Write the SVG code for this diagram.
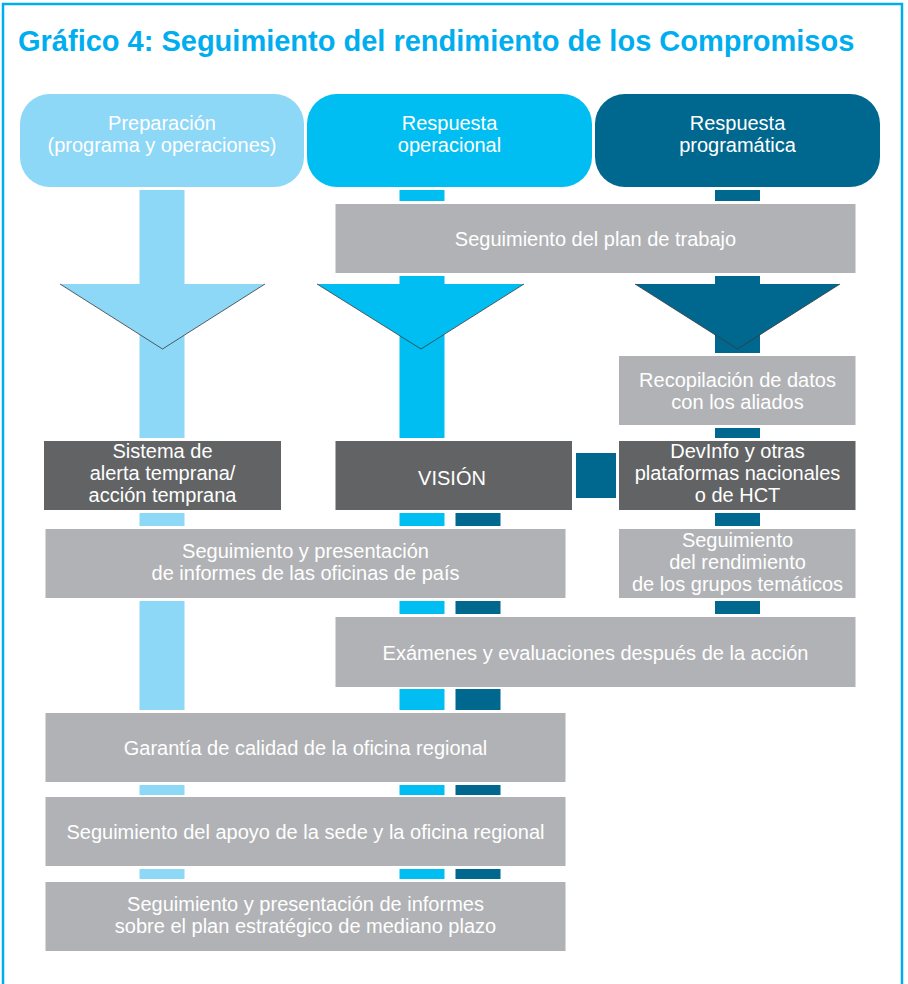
<svg xmlns="http://www.w3.org/2000/svg" width="908" height="984" viewBox="0 0 908 984">
<style>
.t{font-family:"Liberation Sans",Arial,sans-serif;font-size:20px;fill:#ffffff;text-anchor:middle}
.title{font-family:"Liberation Sans",Arial,sans-serif;font-size:29px;font-weight:bold;fill:#00AEEF}
.gray{fill:#B1B2B5}
.dgray{fill:#626365}
.lb{fill:#8DD7F7}
.cy{fill:#00BEF2}
.db{fill:#00678F}
.edge{fill:none;stroke:#3a3a3a;stroke-width:0.8}
</style>
<rect x="0" y="0" width="908" height="984" fill="#ffffff"/>
<rect x="3" y="4" width="899" height="1010" fill="none" stroke="#00AEEF" stroke-width="2.5"/>
<text class="title" x="18" y="50.5">Gráfico 4: Seguimiento del rendimiento de los Compromisos</text>

<g id="connectors">
  <!-- column 1 light blue -->
  <rect class="lb" x="139.5" y="190" width="45" height="248"/>
  <rect class="lb" x="139.5" y="513" width="45" height="13"/>
  <rect class="lb" x="139.5" y="601" width="45" height="109"/>
  <rect class="lb" x="139.5" y="785" width="45" height="10"/>
  <rect class="lb" x="139.5" y="869" width="45" height="10"/>
  <!-- column 2 cyan -->
  <rect class="cy" x="399.5" y="190" width="45" height="11"/>
  <rect class="cy" x="399.5" y="276" width="45" height="162"/>
  <rect class="cy" x="399.5" y="513" width="45" height="13"/>
  <rect class="cy" x="399.5" y="601" width="45" height="13"/>
  <rect class="cy" x="399.5" y="689" width="45" height="21"/>
  <rect class="cy" x="399.5" y="785" width="45" height="10"/>
  <rect class="cy" x="399.5" y="869" width="45" height="10"/>
  <!-- column 2b dark blue -->
  <rect class="db" x="455.5" y="513" width="45" height="13"/>
  <rect class="db" x="455.5" y="601" width="45" height="13"/>
  <rect class="db" x="455.5" y="689" width="45" height="21"/>
  <rect class="db" x="455.5" y="785" width="45" height="10"/>
  <rect class="db" x="455.5" y="869" width="45" height="10"/>
  <!-- column 3 dark blue -->
  <rect class="db" x="715" y="190" width="45" height="11"/>
  <rect class="db" x="715" y="276" width="45" height="77"/>
  <rect class="db" x="715" y="428" width="45" height="10"/>
  <rect class="db" x="715" y="513" width="45" height="13"/>
  <rect class="db" x="715" y="601" width="45" height="13"/>
  <!-- VISION to DevInfo link -->
  <rect class="db" x="576" y="453" width="40" height="45"/>
  <!-- arrowheads -->
  <polygon class="lb" points="60,284 265,284 162.5,349"/>
  <polyline class="edge" points="60,284 162.5,349 265,284"/>
  <polygon class="cy" points="317,284 524,284 421,349"/>
  <polyline class="edge" points="317,284 421,349 524,284"/>
  <polygon class="db" points="635,284 840,284 737.5,349"/>
  <polyline class="edge" points="635,284 737.5,349 840,284"/>
</g>

<g id="prep">
  <rect class="lb" x="20" y="94" width="284" height="93" rx="30" ry="30"/>
  <text class="t" x="162" y="130">Preparación</text>
  <text class="t" x="162" y="152">(programa y operaciones)</text>
</g>
<g id="resp-oper">
  <rect class="cy" x="307" y="94" width="285" height="93" rx="30" ry="30"/>
  <text class="t" x="449.5" y="130">Respuesta</text>
  <text class="t" x="449.5" y="152">operacional</text>
</g>
<g id="resp-prog">
  <rect class="db" x="595" y="94" width="285" height="93" rx="30" ry="30"/>
  <text class="t" x="737.5" y="130">Respuesta</text>
  <text class="t" x="737.5" y="152">programática</text>
</g>

<g id="plan">
  <rect class="gray" x="335.5" y="204" width="520" height="69"/>
  <text class="t" x="595.5" y="246">Seguimiento del plan de trabajo</text>
</g>

<g id="recopilacion">
  <rect class="gray" x="619" y="356" width="236.5" height="69"/>
  <text class="t" x="737.5" y="387">Recopilación de datos</text>
  <text class="t" x="737.5" y="409">con los aliados</text>
</g>

<g id="alerta">
  <rect class="dgray" x="44" y="441" width="237" height="69"/>
  <text class="t" x="162.5" y="458">Sistema de</text>
  <text class="t" x="162.5" y="480">alerta temprana/</text>
  <text class="t" x="162.5" y="502">acción temprana</text>
</g>
<g id="vision">
  <rect class="dgray" x="335.5" y="441" width="236.5" height="69"/>
  <text class="t" x="452" y="485">VISIÓN</text>
</g>
<g id="devinfo">
  <rect class="dgray" x="619" y="441" width="236.5" height="69"/>
  <text class="t" x="737.5" y="458">DevInfo y otras</text>
  <text class="t" x="737.5" y="480">plataformas nacionales</text>
  <text class="t" x="737.5" y="502">o de HCT</text>
</g>

<g id="oficinas-pais">
  <rect class="gray" x="45.5" y="529" width="520" height="69"/>
  <text class="t" x="305.5" y="558">Seguimiento y presentación</text>
  <text class="t" x="305.5" y="580">de informes de las oficinas de país</text>
</g>
<g id="grupos-tematicos">
  <rect class="gray" x="619" y="529" width="236.5" height="69"/>
  <text class="t" x="737.5" y="547">Seguimiento</text>
  <text class="t" x="737.5" y="569">del rendimiento</text>
  <text class="t" x="737.5" y="591">de los grupos temáticos</text>
</g>

<g id="examenes">
  <rect class="gray" x="335.5" y="617" width="520" height="70"/>
  <text class="t" x="595.5" y="659.5">Exámenes y evaluaciones después de la acción</text>
</g>

<g id="garantia">
  <rect class="gray" x="45.5" y="713" width="520" height="69"/>
  <text class="t" x="305.5" y="755">Garantía de calidad de la oficina regional</text>
</g>
<g id="apoyo">
  <rect class="gray" x="45.5" y="797" width="520" height="69"/>
  <text class="t" x="305.5" y="839">Seguimiento del apoyo de la sede y la oficina regional</text>
</g>
<g id="plan-estrategico">
  <rect class="gray" x="45.5" y="882" width="520" height="69"/>
  <text class="t" x="305.5" y="910.5">Seguimiento y presentación de informes</text>
  <text class="t" x="305.5" y="932.5">sobre el plan estratégico de mediano plazo</text>
</g>
</svg>
